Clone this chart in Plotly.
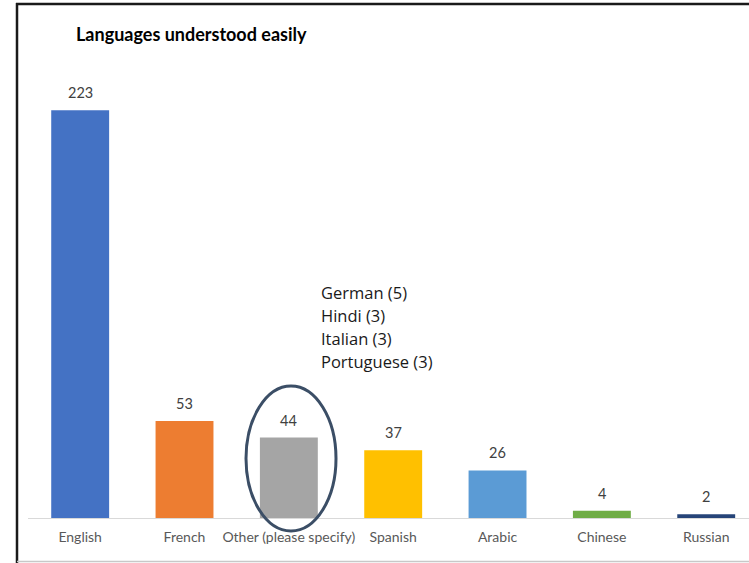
import plotly.graph_objects as go

# Survey counts: languages respondents understand easily
languages = ["English", "French", "Other (please specify)", "Spanish",
             "Arabic", "Chinese", "Russian"]
counts = [223, 53, 44, 37, 26, 4, 2]
bar_colors = ["#4472C4", "#ED7D31", "#A5A5A5", "#FFC000",
              "#5B9BD5", "#70AD47", "#264478"]
other_breakdown = ["German (5)", "Hindi (3)", "Italian (3)", "Portuguese (3)"]

W, H = 749, 563
M_L, M_R, M_T, M_B = 28, 0, 61, 45
Y_MAX = 250
X_RANGE = [-0.5, 6.41]

plot_w = W - M_L - M_R
plot_h = H - M_T - M_B


def px_to_paper_x(px):
    return (px - M_L) / plot_w


def px_to_paper_y(py):
    return (H - M_B - py) / plot_h


fig = go.Figure(go.Bar(
    x=languages,
    y=counts,
    marker=dict(color=bar_colors, line=dict(width=0)),
    width=0.555,
    cliponaxis=False,
))

# value labels above each bar
annotations = [
    dict(x=lang, y=val, xref="x", yref="y", text=str(val), showarrow=False,
         yanchor="bottom", yshift=7,
         font=dict(family="Lato, 'Open Sans', sans-serif", size=14.5, color="#404040"))
    for lang, val in zip(languages, counts)
]

annotations.append(
    dict(text="<b>Languages understood easily</b>", xref="paper", yref="paper",
         x=px_to_paper_x(74), y=px_to_paper_y(34), xanchor="left", yanchor="middle",
         showarrow=False,
         font=dict(family="Lato, 'Open Sans', sans-serif", size=18, color="#000000"))
)

# breakdown of the "Other" answers, one line each
for i, line in enumerate(other_breakdown):
    annotations.append(
        dict(text=line, xref="paper", yref="paper",
             x=px_to_paper_x(319), y=px_to_paper_y(292 + 23 * i),
             xanchor="left", yanchor="middle", showarrow=False,
             font=dict(family="'Open Sans', Lato, sans-serif", size=16.5, color="#1a1a1a"))
    )

shapes = [
    # frame around the chart
    dict(type="line", xref="paper", yref="paper",
         x0=px_to_paper_x(17), x1=px_to_paper_x(17),
         y0=px_to_paper_y(3), y1=px_to_paper_y(563),
         line=dict(color="#1a1a1a", width=2.5)),
    dict(type="line", xref="paper", yref="paper",
         x0=px_to_paper_x(16), x1=px_to_paper_x(760),
         y0=px_to_paper_y(4), y1=px_to_paper_y(4),
         line=dict(color="#1a1a1a", width=2.5)),
    dict(type="line", xref="paper", yref="paper",
         x0=px_to_paper_x(17), x1=px_to_paper_x(760),
         y0=px_to_paper_y(561.5), y1=px_to_paper_y(561.5),
         line=dict(color="#c8c8c8", width=1.5)),
    # ring highlighting the "Other" category
    dict(type="circle", xref="paper", yref="paper",
         x0=px_to_paper_x(246), x1=px_to_paper_x(336),
         y0=px_to_paper_y(531), y1=px_to_paper_y(386),
         line=dict(color="#3B4E66", width=3)),
]

fig.update_layout(
    width=W, height=H,
    margin=dict(l=M_L, r=M_R, t=M_T, b=M_B),
    paper_bgcolor="white",
    plot_bgcolor="white",
    showlegend=False,
    shapes=shapes,
    annotations=annotations,
    xaxis=dict(
        range=X_RANGE,
        showgrid=False,
        showline=True, linecolor="#d9d9d9", linewidth=1,
        ticks="outside", ticklen=6, tickcolor="rgba(0,0,0,0)",
        tickfont=dict(family="Lato, 'Open Sans', sans-serif", size=14, color="#595959"),
        fixedrange=True,
    ),
    yaxis=dict(
        range=[0, Y_MAX],
        visible=False,
        showgrid=False,
        zeroline=False,
        fixedrange=True,
    ),
)

fig.write_html("out.html")
